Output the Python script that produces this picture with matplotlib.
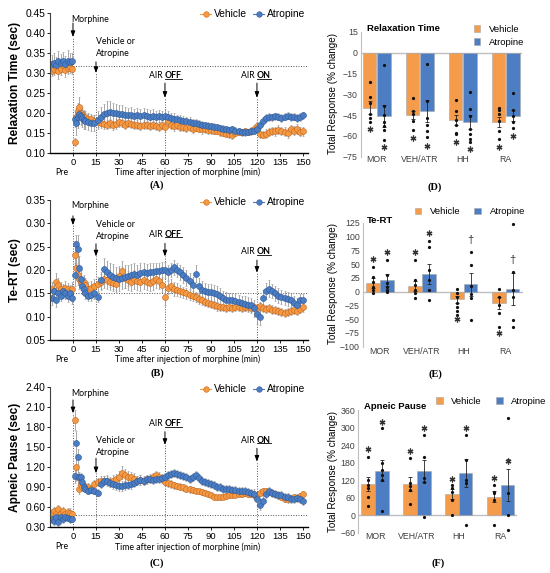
import matplotlib
matplotlib.use("Agg")
import matplotlib.pyplot as plt
import numpy as np
from matplotlib.lines import Line2D
from matplotlib.patches import Patch

plt.rcParams["font.family"] = ["Liberation Sans", "DejaVu Sans"]

ORANGE = "#F39A45"
ORANGE_EDGE = "#C8651B"
BLUE = "#4A7DC4"
BLUE_EDGE = "#2E5A97"
BAR_ORANGE = "#F59B4C"
BAR_BLUE = "#4D7EC3"
ERR_GRAY = "#9A9A9A"
NOTE_FONT = ["Lato", "DejaVu Sans"]

# time axis (min): baseline "Pre" readings, then after morphine
PRE_T = [-14, -12.5, -11, -9.5, -8, -6.5, -5, -3.5, -2, -0.5]
POST_T = [1, 2, 3, 4, 5, 6, 7, 8] + list(range(10, 151, 2))
TIME = PRE_T + POST_T

# ---- (A) relaxation time (sec)
RT_VEH = [0.305, 0.310, 0.315, 0.303, 0.310, 0.318, 0.306, 0.312, 0.315, 0.310,
          0.127, 0.190, 0.205, 0.215, 0.200, 0.195, 0.190, 0.188, 0.185, 0.183,
          0.180, 0.176, 0.174, 0.172, 0.170, 0.173, 0.168, 0.171, 0.176, 0.174,
          0.170, 0.175, 0.172, 0.168, 0.170, 0.167, 0.170, 0.168, 0.166, 0.169,
          0.167, 0.165, 0.168, 0.163, 0.180, 0.170, 0.166, 0.168, 0.165, 0.163,
          0.162, 0.163, 0.160, 0.162, 0.160, 0.158, 0.159, 0.157, 0.156, 0.155,
          0.154, 0.152, 0.150, 0.148, 0.146, 0.144, 0.150, 0.152, 0.151, 0.153,
          0.152, 0.155, 0.160, 0.167, 0.148, 0.145, 0.148, 0.152, 0.155, 0.153,
          0.157, 0.155, 0.152, 0.150, 0.158, 0.155, 0.160, 0.152, 0.153]
RT_VEH_ERR = [0.014, 0.016, 0.015, 0.018, 0.015, 0.014, 0.017, 0.015, 0.016, 0.014,
              0.010, 0.022, 0.020, 0.025, 0.020, 0.018, 0.016, 0.015, 0.015, 0.014,
              0.014, 0.013, 0.012, 0.012, 0.011, 0.012, 0.011, 0.012, 0.012, 0.011,
              0.011, 0.012, 0.011, 0.010, 0.011, 0.010, 0.011, 0.010, 0.010, 0.011,
              0.010, 0.011, 0.010, 0.012, 0.014, 0.012, 0.011, 0.010, 0.010, 0.010,
              0.010, 0.009, 0.010, 0.009, 0.009, 0.010, 0.009, 0.009, 0.009, 0.008,
              0.008, 0.009, 0.008, 0.008, 0.008, 0.009, 0.008, 0.008, 0.008, 0.008,
              0.008, 0.008, 0.009, 0.010, 0.010, 0.009, 0.010, 0.010, 0.010, 0.011,
              0.011, 0.010, 0.011, 0.012, 0.011, 0.011, 0.012, 0.011, 0.010]
RT_ATR = [0.322, 0.325, 0.320, 0.330, 0.325, 0.328, 0.322, 0.330, 0.326, 0.328,
          0.185, 0.175, 0.190, 0.197, 0.192, 0.186, 0.182, 0.180, 0.176, 0.173,
          0.175, 0.182, 0.190, 0.196, 0.200, 0.202, 0.200, 0.198, 0.196, 0.197,
          0.195, 0.193, 0.194, 0.192, 0.193, 0.191, 0.194, 0.192, 0.190, 0.192,
          0.190, 0.191, 0.189, 0.192, 0.188, 0.186, 0.185, 0.183, 0.181, 0.180,
          0.178, 0.177, 0.175, 0.173, 0.172, 0.170, 0.168, 0.167, 0.166, 0.164,
          0.163, 0.162, 0.160, 0.158, 0.157, 0.158, 0.155, 0.153, 0.152, 0.151,
          0.152, 0.153, 0.155, 0.158, 0.170, 0.180, 0.187, 0.190, 0.188, 0.191,
          0.190, 0.187, 0.190, 0.192, 0.188, 0.190, 0.186, 0.189, 0.193]
RT_ATR_ERR = [0.022, 0.024, 0.020, 0.025, 0.022, 0.024, 0.020, 0.026, 0.022, 0.020,
              0.020, 0.030, 0.028, 0.025, 0.024, 0.022, 0.022, 0.020, 0.020, 0.020,
              0.020, 0.022, 0.024, 0.026, 0.028, 0.027, 0.025, 0.024, 0.022, 0.021,
              0.020, 0.019, 0.019, 0.018, 0.018, 0.017, 0.017, 0.016, 0.016, 0.016,
              0.015, 0.015, 0.015, 0.016, 0.015, 0.014, 0.013, 0.012, 0.012, 0.011,
              0.011, 0.011, 0.010, 0.010, 0.010, 0.010, 0.009, 0.009, 0.009, 0.009,
              0.009, 0.008, 0.008, 0.008, 0.008, 0.008, 0.008, 0.008, 0.008, 0.008,
              0.008, 0.008, 0.008, 0.009, 0.010, 0.010, 0.010, 0.010, 0.009, 0.009,
              0.009, 0.010, 0.009, 0.009, 0.010, 0.009, 0.010, 0.009, 0.009]

# ---- (B) Te-RT (sec)
TE_VEH = [0.160, 0.155, 0.175, 0.168, 0.160, 0.155, 0.162, 0.160, 0.156, 0.160,
          0.233, 0.205, 0.190, 0.180, 0.175, 0.170, 0.175, 0.168, 0.160, 0.162,
          0.165, 0.170, 0.175, 0.180, 0.178, 0.175, 0.172, 0.170, 0.188, 0.198,
          0.182, 0.178, 0.175, 0.180, 0.176, 0.174, 0.178, 0.175, 0.172, 0.176,
          0.180, 0.176, 0.168, 0.142, 0.162, 0.165, 0.160, 0.158, 0.155, 0.152,
          0.150, 0.147, 0.145, 0.142, 0.138, 0.135, 0.132, 0.130, 0.127, 0.125,
          0.122, 0.120, 0.120, 0.118, 0.120, 0.119, 0.121, 0.120, 0.118, 0.120,
          0.121, 0.119, 0.120, 0.118, 0.122, 0.118, 0.117, 0.118, 0.115, 0.114,
          0.112, 0.110, 0.108, 0.110, 0.112, 0.115, 0.112, 0.116, 0.120]
TE_VEH_ERR = [0.015, 0.012, 0.018, 0.014, 0.015, 0.012, 0.014, 0.013, 0.012, 0.014,
              0.030, 0.025, 0.022, 0.020, 0.018, 0.016, 0.015, 0.015, 0.014, 0.014,
              0.015, 0.016, 0.017, 0.018, 0.018, 0.018, 0.018, 0.018, 0.020, 0.022,
              0.020, 0.020, 0.020, 0.020, 0.019, 0.019, 0.019, 0.018, 0.018, 0.018,
              0.018, 0.017, 0.016, 0.016, 0.014, 0.015, 0.015, 0.014, 0.013, 0.012,
              0.012, 0.011, 0.011, 0.010, 0.010, 0.010, 0.009, 0.009, 0.009, 0.009,
              0.009, 0.008, 0.008, 0.008, 0.008, 0.008, 0.008, 0.008, 0.008, 0.008,
              0.008, 0.008, 0.008, 0.009, 0.010, 0.009, 0.009, 0.009, 0.009, 0.008,
              0.008, 0.008, 0.008, 0.008, 0.008, 0.009, 0.008, 0.009, 0.009]
TE_ATR = [0.140, 0.155, 0.135, 0.150, 0.145, 0.155, 0.150, 0.145, 0.150, 0.140,
          0.190, 0.255, 0.245, 0.205, 0.180, 0.165, 0.160, 0.150, 0.145, 0.146,
          0.150, 0.142, 0.178, 0.203, 0.195, 0.190, 0.186, 0.182, 0.180, 0.183,
          0.186, 0.188, 0.190, 0.192, 0.190, 0.194, 0.196, 0.193, 0.195, 0.196,
          0.198, 0.197, 0.199, 0.200, 0.195, 0.200, 0.206, 0.200, 0.195, 0.190,
          0.182, 0.176, 0.168, 0.192, 0.165, 0.158, 0.155, 0.152, 0.152, 0.150,
          0.148, 0.145, 0.140, 0.136, 0.135, 0.136, 0.134, 0.132, 0.130, 0.128,
          0.126, 0.124, 0.118, 0.105, 0.100, 0.140, 0.155, 0.160, 0.155, 0.150,
          0.145, 0.142, 0.140, 0.138, 0.135, 0.130, 0.125, 0.135, 0.135]
TE_ATR_ERR = [0.014, 0.012, 0.015, 0.013, 0.012, 0.014, 0.012, 0.013, 0.014, 0.012,
              0.025, 0.020, 0.030, 0.025, 0.020, 0.016, 0.014, 0.012, 0.012, 0.012,
              0.012, 0.010, 0.018, 0.022, 0.025, 0.026, 0.026, 0.025, 0.025, 0.024,
              0.024, 0.023, 0.022, 0.022, 0.021, 0.020, 0.020, 0.020, 0.019, 0.019,
              0.018, 0.018, 0.018, 0.017, 0.016, 0.016, 0.016, 0.016, 0.016, 0.017,
              0.017, 0.017, 0.018, 0.018, 0.018, 0.018, 0.018, 0.018, 0.018, 0.017,
              0.017, 0.016, 0.016, 0.016, 0.015, 0.015, 0.015, 0.015, 0.015, 0.016,
              0.016, 0.017, 0.018, 0.020, 0.018, 0.018, 0.018, 0.018, 0.016, 0.016,
              0.016, 0.015, 0.015, 0.015, 0.015, 0.015, 0.015, 0.014, 0.014]

# ---- (C) apneic pause (sec)
AP_VEH = [0.52, 0.55, 0.50, 0.58, 0.52, 0.55, 0.50, 0.53, 0.52, 0.50,
          1.91, 1.20, 1.05, 0.88, 0.95, 0.90, 0.92, 0.90, 0.90, 0.88,
          0.95, 0.98, 1.00, 1.00, 1.00, 0.98, 1.00, 1.02, 1.06, 1.12,
          1.08, 1.06, 1.05, 1.03, 1.00, 1.01, 1.00, 1.02, 1.03, 1.05,
          1.08, 1.06, 1.02, 0.98, 0.97, 0.95, 0.93, 0.92, 0.91, 0.90,
          0.88, 0.87, 0.86, 0.85, 0.84, 0.83, 0.82, 0.80, 0.78, 0.76,
          0.75, 0.75, 0.76, 0.77, 0.78, 0.78, 0.79, 0.80, 0.80, 0.81,
          0.80, 0.80, 0.79, 0.78, 0.82, 0.84, 0.84, 0.83, 0.82, 0.80,
          0.78, 0.76, 0.73, 0.72, 0.74, 0.75, 0.74, 0.77, 0.80]
AP_VEH_ERR = [0.06, 0.05, 0.07, 0.06, 0.05, 0.06, 0.05, 0.06, 0.07, 0.05,
              0.15, 0.20, 0.12, 0.08, 0.07, 0.06, 0.06, 0.06, 0.06, 0.06,
              0.06, 0.06, 0.07, 0.07, 0.08, 0.08, 0.08, 0.08, 0.09, 0.10,
              0.09, 0.08, 0.08, 0.08, 0.07, 0.07, 0.07, 0.07, 0.07, 0.07,
              0.07, 0.07, 0.06, 0.06, 0.06, 0.06, 0.05, 0.05, 0.05, 0.05,
              0.05, 0.05, 0.05, 0.04, 0.04, 0.04, 0.04, 0.04, 0.04, 0.04,
              0.04, 0.04, 0.04, 0.04, 0.04, 0.04, 0.04, 0.04, 0.04, 0.04,
              0.04, 0.04, 0.05, 0.05, 0.05, 0.05, 0.05, 0.05, 0.05, 0.05,
              0.05, 0.05, 0.05, 0.05, 0.05, 0.05, 0.05, 0.05, 0.05]
AP_ATR = [0.42, 0.40, 0.46, 0.38, 0.45, 0.42, 0.46, 0.44, 0.42, 0.43,
          1.07, 1.56, 1.35, 1.05, 1.05, 0.98, 0.90, 0.88, 0.85, 0.86,
          0.85, 0.82, 0.95, 1.00, 1.00, 0.97, 0.95, 0.93, 0.92, 0.92,
          0.93, 0.94, 0.95, 0.97, 1.00, 1.01, 1.00, 1.02, 1.02, 1.01,
          1.02, 1.03, 1.04, 1.05, 1.08, 1.10, 1.12, 1.10, 1.08, 1.07,
          1.05, 1.03, 1.05, 1.08, 1.04, 1.00, 0.98, 0.96, 0.95, 0.93,
          0.91, 0.90, 0.88, 0.88, 0.87, 0.86, 0.86, 0.85, 0.85, 0.84,
          0.83, 0.82, 0.80, 0.72, 0.64, 0.70, 0.80, 0.85, 0.82, 0.80,
          0.79, 0.78, 0.76, 0.75, 0.73, 0.72, 0.74, 0.72, 0.70]
AP_ATR_ERR = [0.05, 0.06, 0.05, 0.06, 0.05, 0.05, 0.06, 0.05, 0.06, 0.05,
              0.10, 0.18, 0.12, 0.08, 0.07, 0.06, 0.06, 0.05, 0.05, 0.05,
              0.05, 0.05, 0.06, 0.07, 0.07, 0.07, 0.07, 0.07, 0.07, 0.07,
              0.07, 0.07, 0.07, 0.07, 0.07, 0.07, 0.06, 0.06, 0.06, 0.06,
              0.06, 0.06, 0.06, 0.06, 0.06, 0.06, 0.06, 0.06, 0.06, 0.06,
              0.06, 0.06, 0.06, 0.06, 0.06, 0.06, 0.06, 0.06, 0.06, 0.06,
              0.06, 0.06, 0.06, 0.06, 0.06, 0.06, 0.06, 0.06, 0.06, 0.06,
              0.06, 0.06, 0.07, 0.08, 0.08, 0.07, 0.06, 0.06, 0.06, 0.06,
              0.06, 0.06, 0.06, 0.06, 0.06, 0.06, 0.06, 0.06, 0.06]

# ---- total responses (% change), bars = mean, dots = individual rats
GROUPS = ["MOR", "VEH/ATR", "HH", "RA"]

D_VEH = [-39.7, -45.0, -48.6, -50.2]
D_VEH_SEM = [4.5, 2.7, 3.7, 3.7]
D_ATR = [-45.5, -42.1, -50.0, -45.5]
D_ATR_SEM = [7.8, 8.0, 5.0, 3.8]
D_VEH_PTS = [[-21, -32, -36, -44, -47, -50], [-33, -42, -44, -49, -56],
             [-34, -42, -48.6, -52, -58, -59], [-39.7, -41.5, -44, -49, -56.6, -62.6]]
D_ATR_PTS = [[-9.3, -38.6, -45, -50, -53, -56, -62.9], [-8.5, -35, -47, -52, -56.6, -60.7],
             [-28.6, -40.5, -46, -55, -58.6, -62, -64.6], [-29.3, -41.4, -46, -49.7, -54.5]]
D_VEH_SIG = [-55.3, -61.3, -64.6, -67.8]
D_ATR_SIG = [-67.8, -67.0, -69.4, -60.1]

E_VEH = [15.0, 10.7, -14.0, -21.0]
E_VEH_SEM = [9.0, 9.0, 6.5, 10.5]
E_ATR = [21.0, 32.0, 13.0, 5.3]
E_ATR_SEM = [11.5, 18.0, 21.0, 29.0]
E_VEH_PTS = [[45, 26, 18, 9, 3, -3], [57, 21, 12, 3, -3, -11],
             [4, -3, -10, -21, -28.5, -36, -43], [4, -9, -24, -38, -63.7]]
E_ATR_PTS = [[57, 30, 15, 8, 3, 0], [92, 81.4, 39, 21, 3, -15],
             [72, 48, 10, -5, -11, -51.6], [122.6, 36, 2, -9, -51.6, -65]]
E_VEH_SIG = [60, 72, -50, -75.8]
E_ATR_SIG = [72, 107, 93.6, 57]
E_ATR_SIG_KIND = ["*", "*", "†", "†"]

F_VEH = [106.7, 105.6, 71.4, 63.3]
F_VEH_SEM = [25.6, 24.0, 17.0, 19.3]
F_ATR = [152.3, 152.0, 143.3, 102.0]
F_ATR_SEM = [37.0, 37.0, 48.5, 55.0]
F_VEH_PTS = [[200, 120, 103, 92, 61, 31.4], [194.6, 110, 100, 86, 37],
             [103, 92, 80, 52, 0.6], [103, 80, 75, 52, -33.6]]
F_ATR_PTS = [[297, 178, 155, 137, 120, 14.3], [274.4, 200, 126, 115, -5],
             [274, 189, 120, 110, -33.6], [333.7, 189, 75, 0.6, -50.8]]
F_VEH_SIG = [225, 219.7, 124, 126]
F_ATR_SIG = [320, 297, 299.5, 185.4]

W_PX, H_PX = 550, 573
fig = plt.figure(figsize=(5.5, 5.73), dpi=100)


def px_rect(left, top, right, bottom):
    return [left / W_PX, 1 - bottom / H_PX, (right - left) / W_PX, (bottom - top) / H_PX]


underline_texts = []


def time_panel(rect, veh, veh_err, atr, atr_err, ylim, yticks, ylabel, base, notes, legend_y):
    ax = fig.add_axes(px_rect(*rect))
    for vals, err, fc, ec in [(veh, veh_err, ORANGE, ORANGE_EDGE), (atr, atr_err, BLUE, BLUE_EDGE)]:
        ax.errorbar(TIME, vals, yerr=err, fmt="o", ms=4.3, mfc=fc, mec=ec, mew=0.4,
                    ecolor=ERR_GRAY, elinewidth=0.6, capsize=1.0, capthick=0.5, zorder=2)
    xmax = 153.3
    ax.set_xlim(-15, xmax)
    ax.set_ylim(*ylim)
    ax.set_yticks(yticks)
    ax.set_yticklabels([f"{v:.2f}" for v in yticks])
    ax.set_xticks(range(0, 151, 15))
    ax.tick_params(axis="y", labelsize=7.4, length=2, width=0.6, pad=1.5)
    ax.tick_params(axis="x", labelsize=6.8, length=2, width=0.6, pad=1.5)
    for s in ["top", "right"]:
        ax.spines[s].set_visible(False)
    ax.spines["left"].set_color("#404040")
    ax.spines["left"].set_linewidth(0.8)
    ax.spines["bottom"].set_linewidth(1.0)
    ax.set_ylabel(ylabel, fontsize=8.6, weight="bold", labelpad=3)

    dot = (0, (1, 1.6))
    ax.hlines(base, 0, xmax, colors="#555555", linestyles=[dot], lw=0.7, zorder=1)
    arrow = dict(arrowstyle="-|>,head_width=0.13,head_length=0.35", color="k", lw=0.7,
                 shrinkA=0, shrinkB=0)
    kw = dict(fontsize=6.3, family=NOTE_FONT, va="center")
    for x, (tail, head) in zip([0, 15, 60, 120], notes["arrows"]):
        ax.vlines(x, ylim[0], head, colors="#555555", linestyles=[dot], lw=0.7, zorder=1)
        ax.annotate("", xy=(x, head), xytext=(x, tail), arrowprops=arrow)
    ax.text(-1, notes["morphine"], "Morphine", ha="left", **kw)
    ax.text(15, notes["vehicle"], "Vehicle or\nAtropine", ha="left", linespacing=1.45, **kw)
    for x, y, word in [(60, notes["off"], "OFF"), (120, notes["on"], "ON")]:
        ax.text(x, y, "AIR ", ha="right", **kw)
        t = ax.text(x, y, word, ha="left", weight="bold", **kw)
        underline_texts.append(t)
    ax.annotate("Pre", xy=(-7.5, 0), xycoords=("data", "axes fraction"), xytext=(0, -19.5),
                textcoords="offset pixels", ha="center", **kw)
    ax.annotate("Time after injection of morphine (min)", xy=(75, 0),
                xycoords=("data", "axes fraction"), xytext=(0, -19.5),
                textcoords="offset pixels", ha="center", **kw)

    handles = [Line2D([0], [0], color=ORANGE, lw=0.8, marker="o", ms=4, mfc=ORANGE, mec=ORANGE_EDGE, mew=0.4),
               Line2D([0], [0], color=BLUE, lw=0.8, marker="o", ms=4, mfc=BLUE, mec=BLUE_EDGE, mew=0.4)]
    ax.legend(handles, ["Vehicle", "Atropine"], loc="center left", ncol=2,
              bbox_to_anchor=(200 / W_PX, 1 - legend_y / H_PX), bbox_transform=fig.transFigure,
              frameon=False, fontsize=7.4, handlelength=1.1, handletextpad=0.25,
              columnspacing=0.6, borderpad=0, borderaxespad=0)
    return ax


time_panel((50, 12.7, 308, 152.7), RT_VEH, RT_VEH_ERR, RT_ATR, RT_ATR_ERR,
           (0.10, 0.45), np.arange(0.10, 0.451, 0.05), "Relaxation Time (sec)", 0.317,
           dict(morphine=0.434, vehicle=0.362, off=0.292, on=0.292,
                arrows=[(0.424, 0.389), (0.327, 0.299), (0.274, 0.237), (0.274, 0.237)]),
           14.3)
time_panel((50, 200, 308, 340), TE_VEH, TE_VEH_ERR, TE_ATR, TE_ATR_ERR,
           (0.05, 0.35), np.arange(0.05, 0.351, 0.05), "Te-RT (sec)", 0.15,
           dict(morphine=0.338, vehicle=0.284, off=0.276, on=0.239,
                arrows=[(0.316, 0.296), (0.256, 0.229), (0.257, 0.229), (0.221, 0.194)]),
           202.3)
time_panel((50, 387.3, 308, 527.3), AP_VEH, AP_VEH_ERR, AP_ATR, AP_ATR_ERR,
           (0.30, 2.40), np.arange(0.30, 2.41, 0.30), "Apneic Pause (sec)", 0.49,
           dict(morphine=2.30, vehicle=1.51, off=1.85, on=1.60,
                arrows=[(2.21, 2.01), (1.335, 1.11), (1.734, 1.535), (1.485, 1.284)]),
           389.3)


def bar_panel(rect, xlim, ylim, yticks, title, title_xy, veh, veh_sem, atr, atr_sem,
              veh_pts, atr_pts, veh_sig, atr_sig, atr_kind, legend, label_pad):
    ax = fig.add_axes(px_rect(*rect))
    x = np.arange(len(GROUPS))
    off, w = 0.165, 0.32
    ax.axhline(0, color="#BFBFBF", lw=1.0, zorder=1)
    for sign, vals, sem, pts, sig, kinds, color in [
            (-1, veh, veh_sem, veh_pts, veh_sig, ["*"] * 4, BAR_ORANGE),
            (1, atr, atr_sem, atr_pts, atr_sig, atr_kind, BAR_BLUE)]:
        xs = x + sign * off
        ax.bar(xs, vals, w, color=color, edgecolor="#A8A8A8", lw=0.4, zorder=2)
        ax.errorbar(xs, vals, yerr=sem, fmt="none", ecolor="#222222", elinewidth=0.6,
                    capsize=1.6, capthick=0.6, zorder=3)
        for xi, p in zip(xs, pts):
            ax.plot([xi] * len(p), p, "o", ms=1.3, color="#111111", zorder=4)
        for xi, s, k in zip(xs, sig, kinds):
            if k == "*":
                ax.plot(xi, s, marker=(6, 2, 0), ms=4.2, mew=0.9, color="#333333", zorder=4)
            else:
                ax.text(xi, s, k, ha="center", va="center", fontsize=8, color="#333333", zorder=4)
    ax.set_xlim(*xlim)
    ax.set_ylim(*ylim)
    ax.set_yticks(yticks)
    ax.set_xticks(x, GROUPS)
    ax.tick_params(axis="y", labelsize=6.3, length=0, pad=2, labelcolor="#404040")
    ax.tick_params(axis="x", labelsize=6.3, length=0, pad=label_pad, labelcolor="#404040")
    for s in ["top", "right", "bottom"]:
        ax.spines[s].set_visible(False)
    ax.spines["left"].set_color("#BFBFBF")
    ax.spines["left"].set_linewidth(0.8)
    ax.text(title_xy[0], title_xy[1], title, transform=ax.transAxes, fontsize=6.8,
            weight="bold", ha="left", va="center")
    handles = [Patch(facecolor=BAR_ORANGE, edgecolor="#A8A8A8", lw=0.4),
               Patch(facecolor=BAR_BLUE, edgecolor="#A8A8A8", lw=0.4)]
    lx, ly, ncol = legend
    ax.legend(handles, ["Vehicle", "Atropine"], loc="center left", ncol=ncol,
              bbox_to_anchor=(lx / W_PX, 1 - ly / H_PX), bbox_transform=fig.transFigure,
              frameon=False, fontsize=6.8, handlelength=0.7, handleheight=0.7,
              handletextpad=0.9, columnspacing=1.5, labelspacing=0.4,
              borderpad=0, borderaxespad=0)
    return ax


bar_panel((360.7, 31.7, 521.7, 156.7), (-0.372, 3.372), (-75, 15), range(-75, 16, 15),
          "Relaxation Time", (0.037, 1.027), D_VEH, D_VEH_SEM, D_ATR, D_ATR_SEM,
          D_VEH_PTS, D_ATR_PTS, D_VEH_SIG, D_ATR_SIG, ["*"] * 4, (473.5, 35.7, 1), -1)
bar_panel((362.7, 222.7, 523, 346.7), (-0.41, 3.41), (-100, 125), range(-100, 126, 25),
          "Te-RT", (0.025, 1.016), E_VEH, E_VEH_SEM, E_ATR, E_ATR_SEM,
          E_VEH_PTS, E_ATR_PTS, E_VEH_SIG, E_ATR_SIG, E_ATR_SIG_KIND, (414.5, 211.7, 2), 0)
bar_panel((358.3, 410, 516.7, 532.7), (-0.40, 3.38), (-60, 360), range(-60, 361, 60),
          "Apneic Pause", (0.036, 1.027), F_VEH, F_VEH_SEM, F_ATR, F_ATR_SEM,
          F_VEH_PTS, F_ATR_PTS, F_VEH_SIG, F_ATR_SIG, ["*"] * 4, (436, 401, 2), -0.5)

for y in [93.5, 284, 471]:
    fig.text(333 / W_PX, 1 - y / H_PX, "Total Response (% change)", rotation=90,
             fontsize=7.1, ha="center", va="center")

for label, x, y in [("(A)", 157, 185), ("(B)", 157, 373), ("(C)", 157, 562.7),
                    ("(D)", 435, 186.7), ("(E)", 435, 374), ("(F)", 437.7, 562.7)]:
    fig.text(x / W_PX, 1 - y / H_PX, label, family=["Liberation Serif", "DejaVu Serif"],
             weight="bold", fontsize=7.5, ha="center", va="center")

# underline the bold OFF / ON words
fig.canvas.draw()
inv = fig.transFigure.inverted()
for t in underline_texts:
    bb = t.get_window_extent().transformed(inv)
    yline = bb.y0 + 0.2 * (bb.y1 - bb.y0)
    fig.add_artist(Line2D([bb.x0, bb.x1], [yline, yline], transform=fig.transFigure,
                          color="k", lw=0.6))

fig.savefig("out.png", dpi=100)
